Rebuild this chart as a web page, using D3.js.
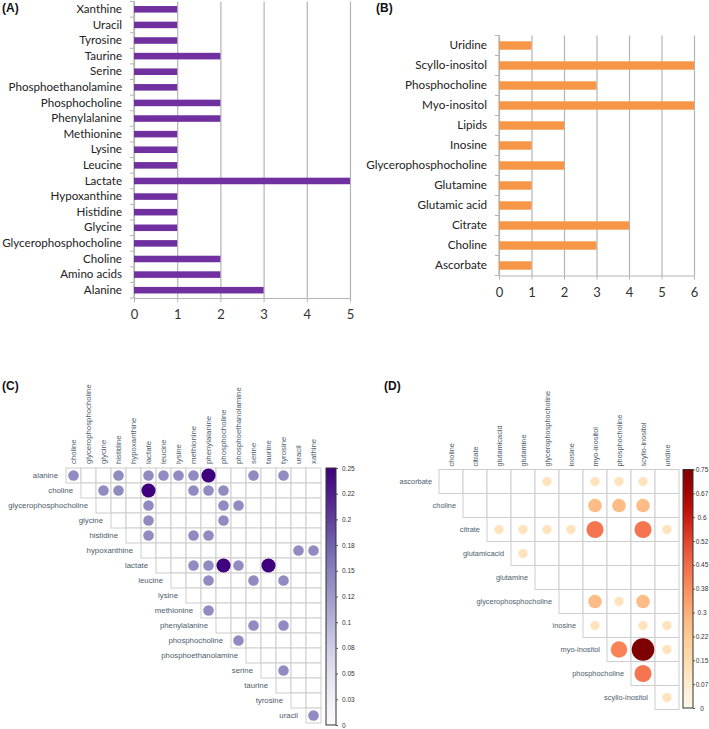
<!DOCTYPE html>
<html>
<head>
<meta charset="utf-8">
<script src="https://cdn.jsdelivr.net/npm/d3@7"></script>
<style>
  body { margin: 0; background: #fff; }
  svg { display: block; }
</style>
</head>
<body>
<div id="viz"></div>
<script>
const width = 709;
const height = 729;

// (A) bar counts, listed bottom to top
const aCategories = ['Alanine', 'Amino acids', 'Choline', 'Glycerophosphocholine', 'Glycine',
  'Histidine', 'Hypoxanthine', 'Lactate', 'Leucine', 'Lysine', 'Methionine', 'Phenylalanine',
  'Phosphocholine', 'Phosphoethanolamine', 'Serine', 'Taurine', 'Tyrosine', 'Uracil', 'Xanthine'];
const aValues = [3, 2, 2, 1, 1, 1, 1, 5, 1, 1, 1, 2, 2, 1, 1, 2, 1, 1, 1];

// (B) bar counts, bottom to top
const bCategories = ['Ascorbate', 'Choline', 'Citrate', 'Glutamic acid', 'Glutamine',
  'Glycerophosphocholine', 'Inosine', 'Lipids', 'Myo-inositol', 'Phosphocholine',
  'Scyllo-inositol', 'Uridine'];
const bValues = [1, 3, 4, 1, 1, 2, 1, 2, 6, 3, 6, 1];

// (C) co-occurrence matrix
const cRows = ['alanine', 'choline', 'glycerophosphocholine', 'glycine', 'histidine', 'hypoxanthine',
  'lactate', 'leucine', 'lysine', 'methionine', 'phenylalanine', 'phosphocholine',
  'phosphoethanolamine', 'serine', 'taurine', 'tyrosine', 'uracil'];
const cCols = ['choline', 'glycerophosphocholine', 'glycine', 'histidine', 'hypoxanthine', 'lactate',
  'leucine', 'lysine', 'methionine', 'phenylalanine', 'phosphocholine', 'phosphoethanolamine',
  'serine', 'taurine', 'tyrosine', 'uracil', 'xathine'];
const cPairs = [
  ['alanine', 'choline', 0.14], ['alanine', 'histidine', 0.14], ['alanine', 'lactate', 0.14],
  ['alanine', 'leucine', 0.14], ['alanine', 'lysine', 0.14], ['alanine', 'methionine', 0.14],
  ['alanine', 'phenylalanine', 0.25], ['alanine', 'serine', 0.14], ['alanine', 'tyrosine', 0.14],
  ['choline', 'glycine', 0.14], ['choline', 'histidine', 0.14], ['choline', 'lactate', 0.25],
  ['choline', 'methionine', 0.14], ['choline', 'phenylalanine', 0.14], ['choline', 'phosphocholine', 0.14],
  ['glycerophosphocholine', 'lactate', 0.14], ['glycerophosphocholine', 'phosphocholine', 0.14],
  ['glycerophosphocholine', 'phosphoethanolamine', 0.14],
  ['glycine', 'lactate', 0.14], ['glycine', 'phosphocholine', 0.14],
  ['histidine', 'lactate', 0.14], ['histidine', 'methionine', 0.14], ['histidine', 'phenylalanine', 0.14],
  ['hypoxanthine', 'uracil', 0.14], ['hypoxanthine', 'xathine', 0.14],
  ['lactate', 'methionine', 0.14], ['lactate', 'phenylalanine', 0.14], ['lactate', 'phosphocholine', 0.25],
  ['lactate', 'phosphoethanolamine', 0.14], ['lactate', 'taurine', 0.25],
  ['leucine', 'phenylalanine', 0.14], ['leucine', 'serine', 0.14], ['leucine', 'tyrosine', 0.14],
  ['methionine', 'phenylalanine', 0.14],
  ['phenylalanine', 'serine', 0.14], ['phenylalanine', 'tyrosine', 0.14],
  ['phosphocholine', 'phosphoethanolamine', 0.14],
  ['serine', 'tyrosine', 0.14],
  ['uracil', 'xathine', 0.14]
];
const cTickLabels = ['0', '0.03', '0.05', '0.08', '0.1', '0.12', '0.15', '0.18', '0.2', '0.22', '0.25'];

// (D) co-occurrence matrix
const dRows = ['ascorbate', 'choline', 'citrate', 'glutamicacid', 'glutamine', 'glycerophosphocholine',
  'inosine', 'myo-inositol', 'phosphocholine', 'scyllo-inositol'];
const dCols = ['choline', 'citrate', 'glutamicacid', 'glutamine', 'glycerophosphocholine', 'inosine',
  'myo-inositol', 'phosphocholine', 'scyllo-inositol', 'uridine'];
const dPairs = [
  ['ascorbate', 'glycerophosphocholine', 0.12], ['ascorbate', 'myo-inositol', 0.12],
  ['ascorbate', 'phosphocholine', 0.12], ['ascorbate', 'scyllo-inositol', 0.12],
  ['choline', 'myo-inositol', 0.27], ['choline', 'phosphocholine', 0.27], ['choline', 'scyllo-inositol', 0.27],
  ['citrate', 'glutamicacid', 0.12], ['citrate', 'glutamine', 0.12], ['citrate', 'glycerophosphocholine', 0.12],
  ['citrate', 'inosine', 0.12], ['citrate', 'myo-inositol', 0.43], ['citrate', 'scyllo-inositol', 0.43],
  ['citrate', 'uridine', 0.12],
  ['glutamicacid', 'glutamine', 0.12],
  ['glycerophosphocholine', 'myo-inositol', 0.27], ['glycerophosphocholine', 'phosphocholine', 0.12],
  ['glycerophosphocholine', 'scyllo-inositol', 0.27],
  ['inosine', 'myo-inositol', 0.12], ['inosine', 'scyllo-inositol', 0.12], ['inosine', 'uridine', 0.12],
  ['myo-inositol', 'phosphocholine', 0.4], ['myo-inositol', 'scyllo-inositol', 0.75],
  ['myo-inositol', 'uridine', 0.12],
  ['phosphocholine', 'scyllo-inositol', 0.43],
  ['scyllo-inositol', 'uridine', 0.12]
];
const dTickLabels = ['0', '0.07', '0.15', '0.22', '0.3', '0.38', '0.45', '0.52', '0.6', '0.67', '0.75'];

const svg = d3.select('#viz')
  .append('svg')
    .attr('width', width)
    .attr('height', height);

const gridGray = '#b4b4b4';
const labelFont = 'Lato, "Open Sans", sans-serif';
const corrFont = '"Liberation Sans", Arial, sans-serif';
const corrText = '#4b5c6b';

function panelLetter(txt, x, y) {
  svg.append('text')
    .attr('x', x).attr('y', y)
    .attr('font-family', corrFont)
    .attr('font-weight', 'bold')
    .attr('font-size', 12)
    .attr('fill', '#111')
    .text(txt);
}

function barPanel(cfg) {
  const g = svg.append('g');
  const x = d3.scaleLinear().domain([0, cfg.max]).range([cfg.x0, cfg.x1]);
  const y = d3.scaleBand().domain(cfg.categories).range([cfg.y1, cfg.y0]).paddingInner(0.58).paddingOuter(0.29);

  // vertical gridlines
  g.append('g')
    .attr('transform', `translate(0, ${cfg.y1})`)
    .call(d3.axisBottom(x).ticks(cfg.max).tickSize(-(cfg.y1 - cfg.y0)).tickFormat(''))
    .call(a => a.select('.domain').remove())
    .call(a => a.selectAll('line').attr('stroke', gridGray).attr('stroke-width', 1.2));

  // bottom axis
  g.append('g')
    .attr('transform', `translate(0, ${cfg.y1})`)
    .call(d3.axisBottom(x).ticks(cfg.max).tickSize(4).tickPadding(8).tickFormat(d3.format('d')))
    .call(a => a.select('.domain').attr('stroke', gridGray))
    .call(a => a.selectAll('line').attr('stroke', gridGray))
    .call(a => a.selectAll('text')
      .attr('font-family', labelFont)
      .attr('font-size', 13)
      .attr('fill', '#333'));

  // left axis line with ticks at band boundaries
  g.append('line')
    .attr('x1', cfg.x0).attr('x2', cfg.x0)
    .attr('y1', cfg.y0).attr('y2', cfg.y1)
    .attr('stroke', gridGray).attr('stroke-width', 1.2);
  const step = y.step();
  g.selectAll('line.btick')
    .data(d3.range(cfg.categories.length + 1))
    .join('line')
      .attr('class', 'btick')
      .attr('x1', cfg.x0 - 4).attr('x2', cfg.x0)
      .attr('y1', i => cfg.y1 - i * step).attr('y2', i => cfg.y1 - i * step)
      .attr('stroke', gridGray);

  const labels = g.append('g')
    .attr('transform', `translate(${cfg.x0}, 0)`)
    .call(d3.axisLeft(y).tickSize(0).tickPadding(cfg.labelPad))
    .call(a => a.select('.domain').remove())
    .selectAll('text')
      .attr('font-family', labelFont)
      .attr('font-size', 12)
      .attr('fill', '#222');

  // shrink the labels so the longest one spans the same width as in the figure
  const longest = d3.max(labels.nodes(), n => n.getComputedTextLength());
  if (longest > 0) labels.attr('font-size', 12 * cfg.labelWidth / longest);

  g.selectAll('rect.bar')
    .data(cfg.values)
    .join('rect')
      .attr('class', 'bar')
      .attr('x', x(0))
      .attr('y', (d, i) => y(cfg.categories[i]))
      .attr('width', d => x(d) - x(0))
      .attr('height', y.bandwidth())
      .attr('fill', cfg.color);
}

function corrPanel(cfg) {
  const g = svg.append('g');
  const n = cfg.cols.length;
  const x = d3.scaleBand().domain(cfg.cols).range([cfg.x0, cfg.x0 + n * cfg.cell]);
  const y = d3.scaleBand().domain(cfg.rows).range([cfg.y0, cfg.y0 + n * cfg.cell]);
  const color = d3.scaleSequential(cfg.interp).domain([0, cfg.vmax]);
  const rScale = d3.scaleSqrt().domain([0, cfg.vmax]).range([0, 0.47 * cfg.cell]);

  const cells = [];
  cfg.rows.forEach((r, i) => cfg.cols.forEach((c, j) => { if (j >= i) cells.push({r: r, c: c}); }));

  g.selectAll('rect.cell')
    .data(cells)
    .join('rect')
      .attr('class', 'cell')
      .attr('x', d => x(d.c))
      .attr('y', d => y(d.r))
      .attr('width', x.bandwidth())
      .attr('height', y.bandwidth())
      .attr('fill', '#fff')
      .attr('stroke', '#cdcdcd')
      .attr('stroke-width', 1);

  g.selectAll('circle')
    .data(cfg.pairs)
    .join('circle')
      .attr('cx', d => x(d[1]) + x.bandwidth() / 2)
      .attr('cy', d => y(d[0]) + y.bandwidth() / 2)
      .attr('r', d => rScale(d[2]))
      .attr('fill', d => color(d[2]));

  // row labels, right aligned against first cell of each row
  g.selectAll('text.row')
    .data(cfg.rows)
    .join('text')
      .attr('class', 'row')
      .attr('x', (d, i) => x(cfg.cols[i]) - cfg.gap)
      .attr('y', d => y(d) + y.bandwidth() / 2)
      .attr('dy', '0.35em')
      .attr('text-anchor', 'end')
      .attr('font-family', corrFont)
      .attr('font-size', cfg.font)
      .attr('fill', corrText)
      .text(d => d);

  // column labels, rotated
  g.selectAll('text.col')
    .data(cfg.cols)
    .join('text')
      .attr('class', 'col')
      .attr('transform', d => `translate(${x(d) + x.bandwidth() / 2}, ${cfg.y0 - cfg.colGap}) rotate(-90)`)
      .attr('dy', '0.35em')
      .attr('text-anchor', 'start')
      .attr('font-family', corrFont)
      .attr('font-size', cfg.font)
      .attr('fill', corrText)
      .text(d => d);

  // colour bar
  const gradId = cfg.id + '-grad';
  const grad = svg.append('defs').append('linearGradient')
    .attr('id', gradId)
    .attr('x1', 0).attr('y1', 1).attr('x2', 0).attr('y2', 0);
  grad.selectAll('stop')
    .data(d3.range(0, 1.0001, 0.05))
    .join('stop')
      .attr('offset', t => t)
      .attr('stop-color', t => cfg.interp(t));

  const cb = cfg.bar;
  g.append('rect')
    .attr('x', cb.x).attr('y', cb.y0)
    .attr('width', cb.w).attr('height', cb.y1 - cb.y0)
    .attr('fill', `url(#${gradId})`)
    .attr('stroke', '#333')
    .attr('stroke-width', 1);

  const cbScale = d3.scaleLinear().domain([0, cfg.vmax]).range([cb.y1, cb.y0]);
  const tickVals = d3.range(cfg.tickLabels.length).map(i => i * cfg.vmax / (cfg.tickLabels.length - 1));
  g.append('g')
    .attr('transform', `translate(${cb.x + cb.w}, 0)`)
    .call(d3.axisRight(cbScale).tickValues(tickVals).tickSize(2).tickPadding(cb.pad)
      .tickFormat((d, i) => cfg.tickLabels[i]))
    .call(a => a.select('.domain').remove())
    .call(a => a.selectAll('line').attr('stroke', '#555'))
    .call(a => a.selectAll('text')
      .attr('font-family', corrFont)
      .attr('font-size', 6.5)
      .attr('fill', '#333')
      .attr('text-anchor', cb.anchor));
}

panelLetter('(A)', 2, 12);
panelLetter('(B)', 376, 12);
panelLetter('(C)', 2, 390);
panelLetter('(D)', 384, 390);

barPanel({
  categories: aCategories, values: aValues, max: 5,
  x0: 134, x1: 350, y0: 1.5, y1: 298, labelPad: 12, labelWidth: 120, color: '#7030a0'
});

barPanel({
  categories: bCategories, values: bValues, max: 6,
  x0: 499, x1: 694, y0: 35.5, y1: 275.5, labelPad: 12, labelWidth: 121, color: '#f79646'
});

corrPanel({
  id: 'c', rows: cRows, cols: cCols, pairs: cPairs, vmax: 0.25,
  interp: d3.interpolatePurples, tickLabels: cTickLabels,
  x0: 66, y0: 468, cell: 15, gap: 8, colGap: 4, font: 7.8,
  bar: {x: 326, w: 10, y0: 468, y1: 725, pad: 4, anchor: 'start'}
});

corrPanel({
  id: 'd', rows: dRows, cols: dCols, pairs: dPairs, vmax: 0.75,
  interp: d3.interpolateOrRd, tickLabels: dTickLabels,
  x0: 439, y0: 469.5, cell: 24, gap: 7, colGap: 3, font: 7.4,
  bar: {x: 683, w: 10, y0: 469.5, y1: 708, pad: 7, anchor: 'middle'}
});
</script>
</body>
</html>
